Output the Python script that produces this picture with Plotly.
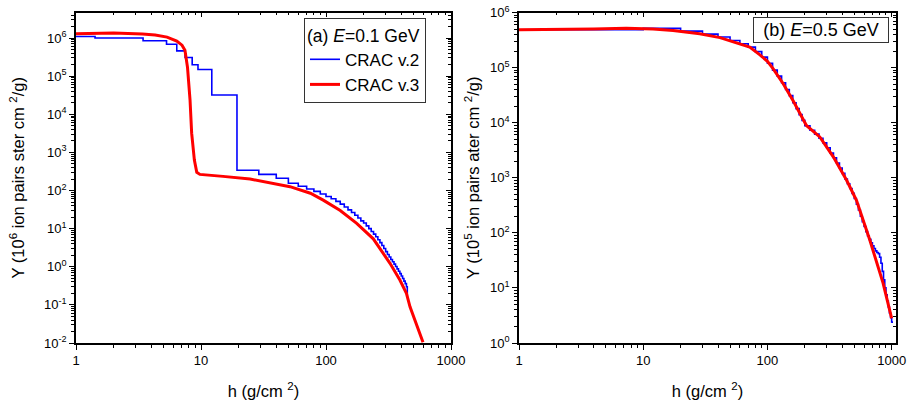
import plotly.graph_objects as go

# ---------------- Panel (a): E = 0.1 GeV ----------------
a_v2_h = [1, 1.42, 3.44, 5.3, 6.4, 7.46, 8.5, 9.46, 12.2, 19.4, 29, 40, 50, 60,
          70, 80, 90, 100, 110, 120, 130, 140, 150, 160, 170, 180, 190, 200,
          210, 220, 230, 240, 250, 260, 270, 280, 290, 300, 310, 320, 330, 340,
          350, 360, 370, 380, 390, 400, 410, 420, 430, 440, 447]
a_v2_y = [1.1e6, 1.0e6, 8.5e5, 6.9e5, 4.6e5, 3.1e5, 2.0e5, 1.5e5, 3.2e4, 340, 265, 210, 155, 130,
          110, 95, 81, 70, 61, 52, 44, 37, 31, 26.5, 22.5, 19, 16, 14,
          11.8, 10, 8.4, 7.2, 6.1, 5.1, 4.3, 3.6, 3.0, 2.5, 2.1, 1.8, 1.55, 1.35,
          1.17, 1.02, 0.88, 0.76, 0.66, 0.57, 0.49, 0.42, 0.36, 0.30, 0.16]

a_v3_h = [1, 1.5, 2, 3.4, 4.3, 5.35, 6.4, 7.05, 7.44, 7.8, 8.17, 8.42, 8.85, 9.25, 9.8,
          15, 24.7, 51.5, 75, 95, 130, 176, 239, 325, 390, 440, 470, 597]
a_v3_y = [1.3e6, 1.33e6, 1.35e6, 1.27e6, 1.2e6, 1.06e6, 8.3e5, 6.5e5, 4.8e5, 1.7e5, 2.4e4, 3.2e3, 630, 300, 265,
          235, 200, 126, 85, 56, 30, 13.8, 5.4, 1.23, 0.45, 0.2, 0.089, 0.0105]

# ---------------- Panel (b): E = 0.5 GeV ----------------
b_v2_h = [1, 10, 20, 30, 40, 50, 60, 70, 80, 90, 100, 110, 120, 130, 140, 150, 160,
          170, 180, 190, 200, 220, 240, 260, 280, 300, 320, 340, 360, 380, 400, 420,
          440, 460, 480, 500, 520, 540, 560, 580, 600, 620, 640, 660, 680, 700, 720,
          740, 760, 780, 800, 820, 840, 860, 880, 900, 920, 940, 960, 980, 1000, 1010]
b_v2_y = [4.85e5, 5.15e5, 4.6e5, 4.05e5, 3.6e5, 3.1e5, 2.7e5, 2.35e5, 1.95e5, 1.55e5, 1.2e5,
          9.0e4, 7.0e4, 5.3e4, 4.0e4, 3.1e4, 2.3e4, 1.8e4, 1.4e4, 1.1e4, 8.8e3, 7.3e3, 6.2e3,
          5.2e3, 4.3e3, 3.5e3, 2.8e3, 2.3e3, 1.85e3, 1.5e3, 1.2e3, 950, 780, 640, 520, 420,
          330, 260, 200, 160, 130, 105, 88, 76, 66, 58, 52, 47, 44, 42, 36, 28, 20, 14, 10,
          7.5, 5.8, 4.5, 3.5, 2.9, 2.4, 2.3]

b_v3_h = [1, 2, 4, 7.3, 12, 17.4, 28.5, 41.5, 60, 72, 87, 100, 111, 134, 161, 182, 206,
          264, 339, 433, 491, 521, 667, 805, 853, 1000]
b_v3_y = [4.85e5, 4.9e5, 5.0e5, 5.2e5, 5.0e5, 4.7e5, 4.1e5, 3.5e5, 2.7e5, 2.35e5, 1.7e5, 1.3e5,
          9.6e4, 5.1e4, 2.5e4, 1.46e4, 8.9e3, 5.5e3, 2.4e3, 910, 520, 390, 74, 20, 12.2, 2.8]

a_ytick_vals = [1e-2, 1e-1, 1, 10, 100, 1e3, 1e4, 1e5, 1e6]
a_ytick_text = ["10<sup>-2</sup>", "10<sup>-1</sup>", "10<sup>0</sup>", "10<sup>1</sup>",
                "10<sup>2</sup>", "10<sup>3</sup>", "10<sup>4</sup>", "10<sup>5</sup>", "10<sup>6</sup>"]
b_ytick_vals = [1, 10, 100, 1e3, 1e4, 1e5, 1e6]
b_ytick_text = ["10<sup>0</sup>", "10<sup>1</sup>", "10<sup>2</sup>", "10<sup>3</sup>",
                "10<sup>4</sup>", "10<sup>5</sup>", "10<sup>6</sup>"]
xtick_vals = [1, 10, 100, 1000]
xtick_text = ["1", "10", "100", "1000"]

BLUE = "#0000ff"
RED = "#ff0000"
FONT = "Liberation Sans, Arial, sans-serif"

W, H = 907, 405

def px(x):
    return x / W

def py(y):
    return 1 - y / H

fig = go.Figure()
fig.add_trace(go.Scatter(x=a_v2_h, y=a_v2_y, mode="lines", line=dict(color=BLUE, width=1.6, shape="hv"),
                         name="CRAC v.2", xaxis="x", yaxis="y", legend="legend"))
fig.add_trace(go.Scatter(x=a_v3_h, y=a_v3_y, mode="lines", line=dict(color=RED, width=3),
                         name="CRAC v.3", xaxis="x", yaxis="y", legend="legend"))
fig.add_trace(go.Scatter(x=b_v2_h, y=b_v2_y, mode="lines", line=dict(color=BLUE, width=1.6, shape="hv"),
                         name="CRAC v.2", xaxis="x2", yaxis="y2", showlegend=False))
fig.add_trace(go.Scatter(x=b_v3_h, y=b_v3_y, mode="lines", line=dict(color=RED, width=3),
                         name="CRAC v.3", xaxis="x2", yaxis="y2", showlegend=False))
# empty traces so the mirrored (inside-tick) frame axes are drawn
fig.add_trace(go.Scatter(x=[], y=[], xaxis="x3", yaxis="y3", showlegend=False, hoverinfo="skip"))
fig.add_trace(go.Scatter(x=[], y=[], xaxis="x4", yaxis="y4", showlegend=False, hoverinfo="skip"))

YD = [py(343), py(12.5)]
XD1 = [px(76), px(451)]
XD2 = [px(519), px(896)]

tickfont = dict(family=FONT, size=13, color="black")
titlefont = dict(family=FONT, size=16.5, color="black")
minor_out = dict(ticks="outside", ticklen=3, tickwidth=1, tickcolor="black", dtick="D1", showgrid=False)
minor_in = dict(ticks="inside", ticklen=3, tickwidth=1, tickcolor="black", dtick="D1", showgrid=False)

def main_x(domain, rng, anchor):
    return dict(type="log", domain=domain, range=rng, anchor=anchor, showgrid=False, zeroline=False,
                automargin=False,
                showline=True, linecolor="black", linewidth=1.5, ticks="outside", ticklen=5, tickwidth=1.3,
                tickcolor="black", tickvals=xtick_vals, ticktext=xtick_text, tickfont=tickfont,
                minor=minor_out,
                title=dict(text="h (g/cm <sup>2</sup>)", font=titlefont, standoff=18))

def main_y(domain, rng, anchor, vals, text, title, standoff):
    return dict(type="log", domain=domain, range=rng, anchor=anchor, showgrid=False, zeroline=False,
                automargin=False,
                showline=True, linecolor="black", linewidth=1.5, ticks="outside", ticklen=5, tickwidth=1.3,
                tickcolor="black", tickvals=vals, ticktext=text, tickfont=tickfont,
                minor=minor_out,
                title=dict(text=title, font=titlefont, standoff=standoff))

def mirror_x(over, domain, rng, anchor):
    return dict(type="log", overlaying=over, side="top", domain=domain, range=rng, anchor=anchor,
                automargin=False,
                showgrid=False, zeroline=False, showline=True, linecolor="black", linewidth=1.5,
                ticks="inside", ticklen=5, tickwidth=1.3, tickcolor="black", tickvals=xtick_vals,
                showticklabels=False, minor=minor_in)

def mirror_y(over, domain, rng, anchor, vals):
    return dict(type="log", overlaying=over, side="right", domain=domain, range=rng, anchor=anchor,
                automargin=False,
                showgrid=False, zeroline=False, showline=True, linecolor="black", linewidth=1.5,
                ticks="inside", ticklen=5, tickwidth=1.3, tickcolor="black", tickvals=vals,
                showticklabels=False, minor=minor_in)

A_YR = [-2, 6.67]
B_YR = [0, 6]
A_XR = [0, 3]
B_XR = [0, 3.035]

fig.update_layout(
    width=W, height=H,
    margin=dict(l=0, r=0, t=0, b=0, autoexpand=False),
    paper_bgcolor="white", plot_bgcolor="white",
    font=dict(family=FONT, color="black"),
    xaxis=main_x(XD1, A_XR, "y"),
    yaxis=main_y(YD, A_YR, "x", a_ytick_vals, a_ytick_text,
                 "Y (10<sup>6</sup> ion pairs ster cm <sup>2</sup>/g)", 15),
    xaxis2=main_x(XD2, B_XR, "y2"),
    yaxis2=main_y(YD, B_YR, "x2", b_ytick_vals, b_ytick_text,
                  "Y (10<sup>5</sup> ion pairs ater cm <sup>2</sup>/g)", 6),
    xaxis3=mirror_x("x", XD1, A_XR, "y3"),
    yaxis3=mirror_y("y", YD, A_YR, "x3", a_ytick_vals),
    xaxis4=mirror_x("x2", XD2, B_XR, "y4"),
    yaxis4=mirror_y("y2", YD, B_YR, "x4", b_ytick_vals),
    legend=dict(x=px(304), y=py(18), xanchor="left", yanchor="top",
                bordercolor="#333333", borderwidth=1, bgcolor="white",
                font=dict(family=FONT, size=17, color="black"),
                title=dict(text="(a) <i>E</i>=0.1 GeV", font=dict(family=FONT, size=17.5, color="black")),
                tracegroupgap=0, itemwidth=30),
    annotations=[dict(text="(b) <i>E</i>=0.5 GeV", xref="paper", yref="paper",
                      x=px(753), y=py(17), xanchor="left", yanchor="top",
                      width=132, height=22, align="center",
                      showarrow=False, font=dict(family=FONT, size=18, color="black"),
                      bordercolor="#333333", borderwidth=1, borderpad=1, bgcolor="white")],
    showlegend=True,
)

fig.write_html("out.html", config={"displayModeBar": False},
               post_script="document.body.style.margin='0';document.body.style.overflow='hidden';")
